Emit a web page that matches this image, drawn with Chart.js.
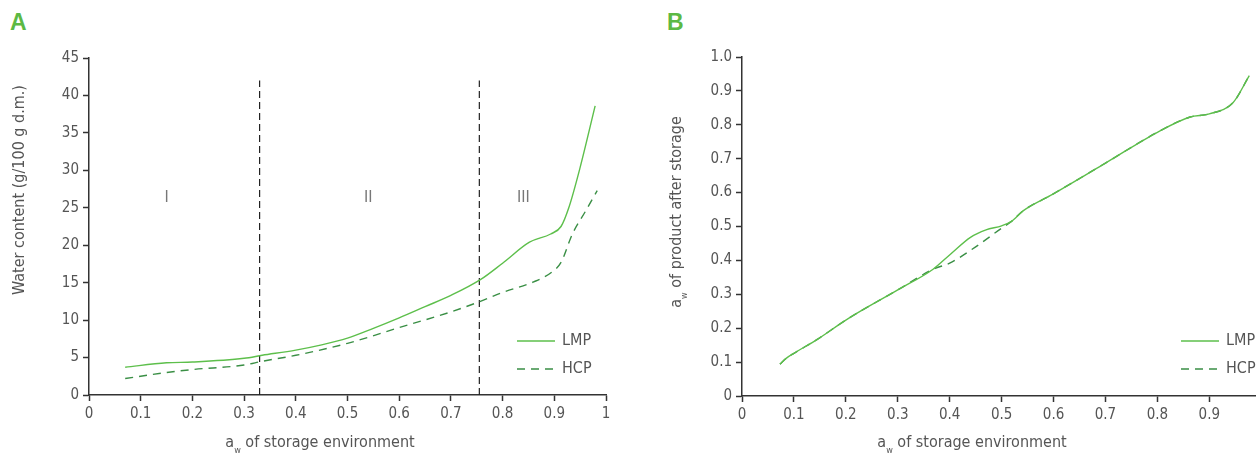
<!DOCTYPE html>
<html>
<head>
<meta charset="utf-8">
<script src="https://cdn.jsdelivr.net/npm/chart.js@4/dist/chart.umd.min.js"></script>
<style>
  body { margin: 0; background: #fff; width: 1256px; height: 455px; overflow: hidden; position: relative; }
  .panel { position: absolute; top: 0; height: 455px; }
  .tag { position: absolute; top: 9px; font: bold 23px "Liberation Sans", sans-serif; color: #5cb944; }
</style>
</head>
<body>
<div class="tag" style="left:10px">A</div>
<div class="tag" style="left:667px">B</div>
<div class="panel" style="left:0;width:630px"><canvas id="chartA"></canvas></div>
<div class="panel" style="left:640px;width:616px"><canvas id="chartB"></canvas></div>
<script>
// données
const xTicks = [0, 0.1, 0.2, 0.3, 0.4, 0.5, 0.6, 0.7, 0.8, 0.9, 1];
const yTicksA = [0, 5, 10, 15, 20, 25, 30, 35, 40, 45];
const yTicksB = [0, 0.1, 0.2, 0.3, 0.4, 0.5, 0.6, 0.7, 0.8, 0.9, 1];

// A : teneur en eau
const xLmpA = [0.07, 0.15, 0.2, 0.3, 0.335, 0.4, 0.45, 0.5, 0.55, 0.6, 0.65, 0.7, 0.757, 0.8, 0.852, 0.893, 0.913, 0.928, 0.95, 0.979];
const yLmpA = [3.7, 4.3, 4.4, 4.9, 5.3, 6.0, 6.7, 7.6, 8.9, 10.3, 11.8, 13.3, 15.4, 17.6, 20.4, 21.5, 22.5, 25.0, 30.4, 38.6];
const xHcpA = [0.07, 0.15, 0.2, 0.3, 0.335, 0.4, 0.5, 0.6, 0.7, 0.757, 0.8, 0.86, 0.895, 0.913, 0.935, 0.96, 0.983];
const yHcpA = [2.2, 3.0, 3.4, 4.0, 4.5, 5.3, 6.9, 9.0, 11.1, 12.5, 13.7, 15.1, 16.4, 17.7, 21.5, 24.5, 27.3];
const zoneX = [0.33, 0.755];
const zoneTop = 42;
const zoneNames = ['I', 'II', 'III'];
const zoneNameX = [0.15, 0.54, 0.84];
const zoneNameY = 26.3;

// B : aw du produit
const xLmpB = [0.073, 0.085, 0.1, 0.145, 0.2, 0.3, 0.368, 0.402, 0.44, 0.47, 0.5, 0.519, 0.542, 0.598, 0.7, 0.8, 0.863, 0.9, 0.946, 0.977];
const yLmpB = [0.094, 0.111, 0.126, 0.167, 0.224, 0.313, 0.374, 0.419, 0.468, 0.49, 0.502, 0.515, 0.547, 0.595, 0.687, 0.778, 0.823, 0.832, 0.866, 0.945];
const xHcpB = [0.073, 0.085, 0.1, 0.145, 0.2, 0.3, 0.368, 0.4, 0.45, 0.5, 0.519, 0.542, 0.598, 0.7, 0.8, 0.863, 0.9, 0.946, 0.977];
const yHcpB = [0.094, 0.111, 0.126, 0.167, 0.224, 0.313, 0.374, 0.392, 0.44, 0.495, 0.515, 0.547, 0.595, 0.687, 0.778, 0.823, 0.832, 0.866, 0.945];

const lmpColor = '#5dbf4b';
const hcpColor = '#3a8f45';
const textColor = '#555555';
const axisColor = '#333333';
const FONT = '"Liberation Sans Narrow", "DejaVu Sans Condensed", sans-serif';

const pts = (xs, ys) => xs.map((x, i) => ({ x: x, y: ys[i] }));

function curve(label, xs, ys, color, dash) {
    return {
        label: label,
        data: pts(xs, ys),
        showLine: true,
        borderColor: color,
        borderWidth: 1.4,
        borderDash: dash,
        pointRadius: 0,
        cubicInterpolationMode: 'monotone',
        fill: false
    };
}

// titres d'axes avec indice, légende et chiffres romains
const extrasPlugin = {
    id: 'extras',
    afterDraw(chart, args, opts) {
        const ctx = chart.ctx;
        ctx.save();
        ctx.fillStyle = textColor;
        ctx.textBaseline = 'alphabetic';

        function subText(parts, x, y) {
            // parts: [texte, indice ?]
            let w = 0;
            parts.forEach(p => { ctx.font = (p[1] ? '9px ' : '16px ') + FONT; w += ctx.measureText(p[0]).width; });
            let cx = x - w / 2;
            parts.forEach(p => {
                ctx.font = (p[1] ? '9px ' : '16px ') + FONT;
                ctx.fillText(p[0], cx, y + (p[1] ? 6 : 0));
                cx += ctx.measureText(p[0]).width;
            });
        }

        ctx.textAlign = 'left';
        subText(opts.xTitle, opts.xTitlePos[0], opts.xTitlePos[1]);
        ctx.save();
        ctx.translate(opts.yTitlePos[0], opts.yTitlePos[1]);
        ctx.rotate(-Math.PI / 2);
        subText(opts.yTitle, 0, 0);
        ctx.restore();

        // légende
        ctx.font = '16px ' + FONT;
        chart.data.datasets.filter(d => d.label).forEach((d, i) => {
            const y = opts.legendPos[1] + i * 28;
            ctx.strokeStyle = d.borderColor;
            ctx.lineWidth = 1.4;
            ctx.setLineDash(d.borderDash || []);
            ctx.beginPath();
            ctx.moveTo(opts.legendPos[0], y);
            ctx.lineTo(opts.legendPos[0] + 38, y);
            ctx.stroke();
            ctx.setLineDash([]);
            ctx.fillStyle = textColor;
            ctx.textBaseline = 'middle';
            ctx.fillText(d.label, opts.legendPos[0] + 45, y);
        });

        if (opts.zones) {
            const xs = chart.scales.x, ys = chart.scales.y;
            ctx.font = '16px ' + FONT;
            ctx.fillStyle = '#777777';
            ctx.textAlign = 'center';
            ctx.textBaseline = 'middle';
            zoneNames.forEach((n, i) => {
                ctx.fillText(n, xs.getPixelForValue(zoneNameX[i]), ys.getPixelForValue(zoneNameY));
            });
        }
        ctx.restore();
    }
};

const fmt = v => String(Math.round(v * 10) / 10);

function axes(yMin, yMax, yTicks, xMax, yCb, yWidth, xHeight) {
    const common = {
        border: { color: axisColor, width: 1.5 },
        grid: { drawOnChartArea: false, tickLength: 6, color: axisColor, tickWidth: 1.5 },
        ticks: { color: textColor, font: { family: FONT, size: 15 }, padding: 4 }
    };
    return {
        x: Object.assign({}, common, {
            type: 'linear', min: 0, max: xMax,
            afterBuildTicks: s => { s.ticks = xTicks.filter(v => v <= xMax).map(v => ({ value: v })); },
            afterFit: s => { s.height = xHeight; },
            ticks: Object.assign({}, common.ticks, { maxRotation: 0, callback: fmt })
        }),
        y: Object.assign({}, common, {
            min: yMin, max: yMax,
            afterBuildTicks: s => { s.ticks = yTicks.map(v => ({ value: v })); },
            afterFit: s => { s.width = yWidth; },
            ticks: Object.assign({}, common.ticks, { callback: yCb })
        })
    };
}

const chartA = new Chart(document.getElementById('chartA').getContext('2d'), {
    type: 'scatter',
    data: {
        datasets: [
            curve('LMP', xLmpA, yLmpA, lmpColor, []),
            curve('HCP', xHcpA, yHcpA, hcpColor, [8, 6]),
            { data: [{ x: zoneX[0], y: 0 }, { x: zoneX[0], y: zoneTop }], showLine: true, borderColor: '#222', borderWidth: 1.2, borderDash: [7, 4], pointRadius: 0 },
            { data: [{ x: zoneX[1], y: 0 }, { x: zoneX[1], y: zoneTop }], showLine: true, borderColor: '#222', borderWidth: 1.2, borderDash: [7, 4], pointRadius: 0 }
        ]
    },
    plugins: [extrasPlugin],
    options: {
        responsive: true,
        maintainAspectRatio: false,
        animation: false,
        layout: { padding: { left: 0, top: 58, right: 24, bottom: 0 } },
        scales: axes(0, 45, yTicksA, 1, v => v, 89, 60),
        plugins: {
            legend: { display: false },
            tooltip: { enabled: false },
            extras: {
                xTitle: [['a', false], ['w', true], [' of storage environment', false]],
                xTitlePos: [320, 447],
                yTitle: [['Water content (g/100 g d.m.)', false]],
                yTitlePos: [24, 190],
                legendPos: [517, 341],
                zones: true
            }
        }
    }
});

const chartB = new Chart(document.getElementById('chartB').getContext('2d'), {
    type: 'scatter',
    data: {
        datasets: [
            curve('LMP', xLmpB, yLmpB, lmpColor, []),
            curve('HCP', xHcpB, yHcpB, hcpColor, [8, 6])
        ]
    },
    plugins: [extrasPlugin],
    options: {
        responsive: true,
        maintainAspectRatio: false,
        animation: false,
        layout: { padding: { left: 0, top: 57, right: 1, bottom: 0 } },
        scales: axes(0, 1, yTicksB, 0.988, v => (v === 1 ? '1.0' : fmt(v)), 102, 59),
        plugins: {
            legend: { display: false },
            tooltip: { enabled: false },
            extras: {
                xTitle: [['a', false], ['w', true], [' of storage environment', false]],
                xTitlePos: [332, 447],
                yTitle: [['a', false], ['w', true], [' of product after storage', false]],
                yTitlePos: [41, 212],
                legendPos: [541, 341],
                zones: false
            }
        }
    }
});
</script>
</body>
</html>
